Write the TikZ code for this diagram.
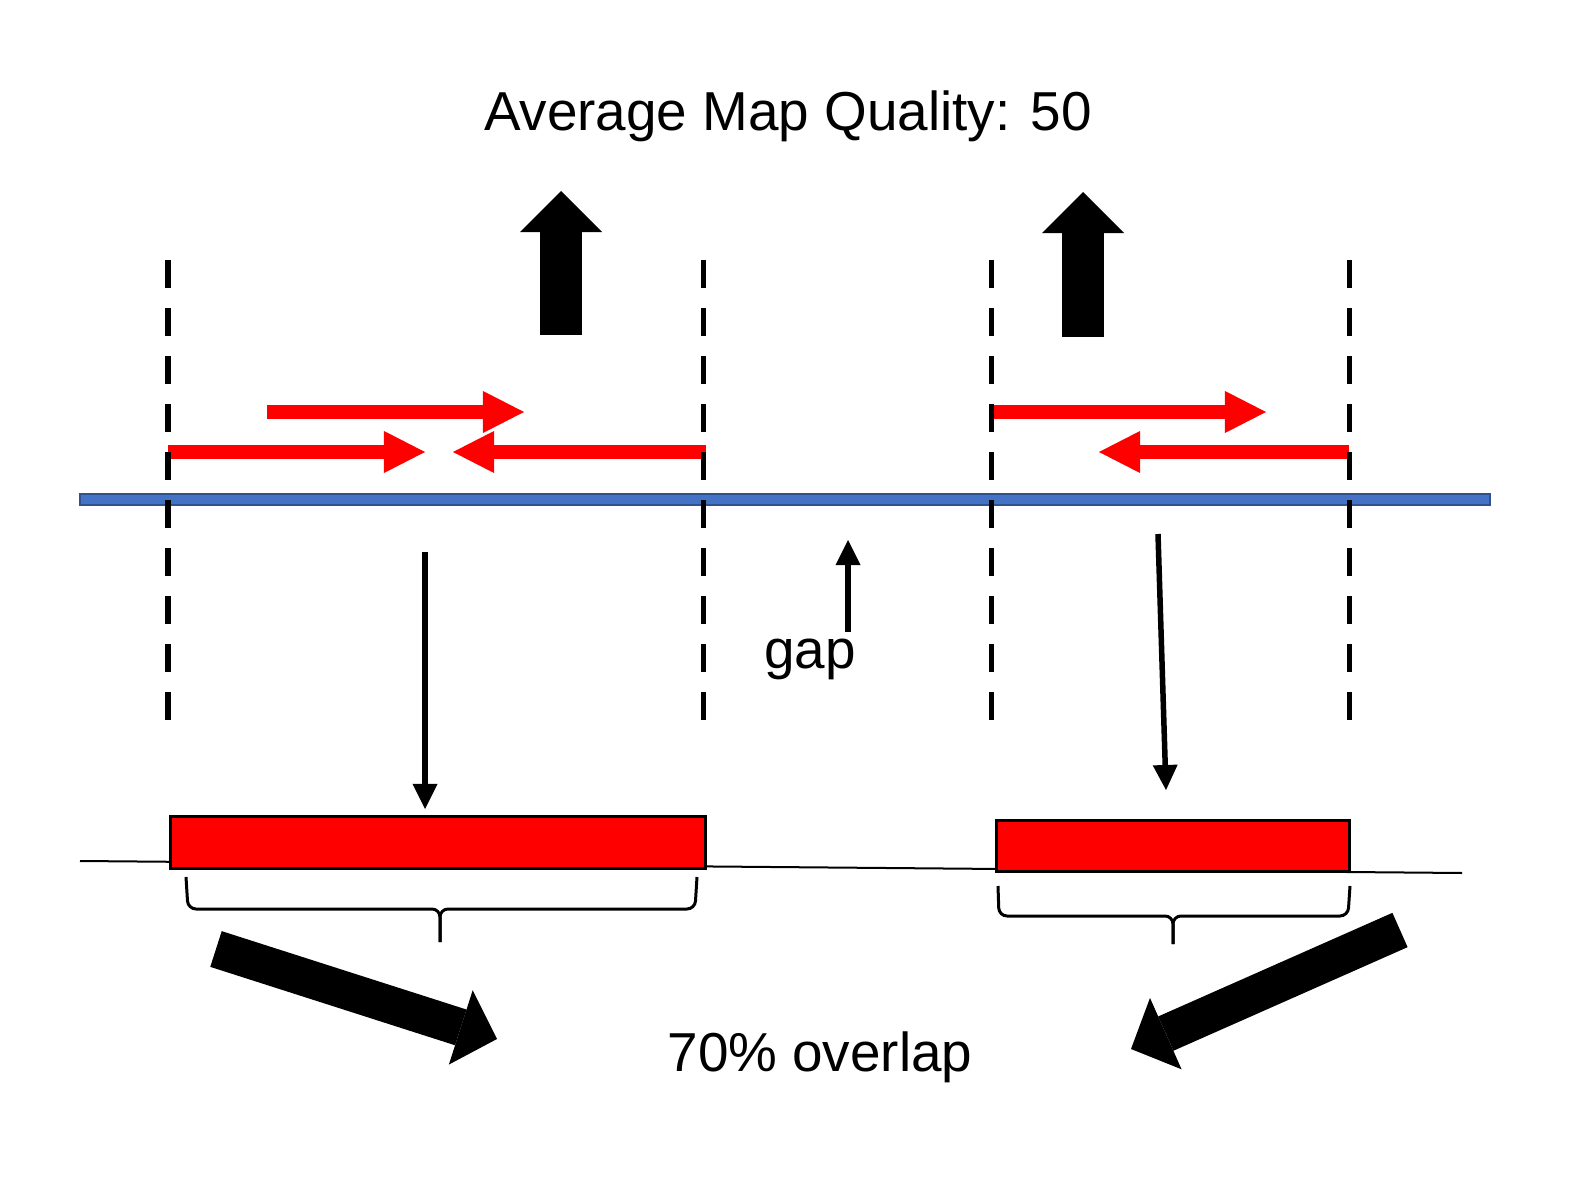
\documentclass[tikz,border=0pt]{standalone}
\usepackage{fontspec}
\setmainfont{Liberation Sans}
\usetikzlibrary{arrows.meta}
\definecolor{mapblue}{HTML}{4472C4}
\definecolor{mapblueline}{HTML}{2F528F}
\tikzset{
	maptext/.style={font=\fontsize{15.6pt}{18pt}\selectfont,inner sep=0pt,anchor=base},
	readarrow/.style={draw=red,line width=0.14cm,-{Triangle[length=0.41cm,width=0.42cm,line width=0pt]}},
	bigarrow/.style={line width=0.41cm,-{Triangle[length=0.41cm,width=0.82cm,line width=0pt]}},
	diagarrow/.style={line width=0.375cm,-{Triangle[length=0.38cm,width=0.78cm,line width=0pt]}},
	thinarrow/.style={line width=0.055cm,-{Triangle[length=0.25cm,width=0.25cm,line width=0pt]}},
	boundary/.style={line width=0.05cm,dash pattern=on 0.28cm off 0.2cm},
	readblock/.style={fill=red,draw=black,line width=0.03cm},
	braceline/.style={line width=0.03cm,rounded corners=0.08cm}
}
\begin{document}
\begin{tikzpicture}[x=0.01cm,y=-0.01cm]
	\useasboundingbox (0,0) rectangle (1572,1182);
	\node[maptext] (title) at (788,131) {Average Map Quality: 50};
	\draw[bigarrow] (561,335) -- (561,191);
	\draw[bigarrow] (1083,337) -- (1083,192);
	\draw[readarrow] (267,412) -- (524,412);
	\draw[readarrow] (168,452) -- (425,452);
	\draw[readarrow] (706,452) -- (453,452);
	\draw[readarrow] (993,412) -- (1266,412);
	\draw[readarrow] (1349,452) -- (1099,452);
	\filldraw[fill=mapblue,draw=mapblueline,line width=0.015cm] (80,494) rectangle (1490,505);
	\draw[line width=0.02cm] (80,861) -- (1462,873);
	\filldraw[readblock] (170,816) rectangle (705,868);
	\filldraw[readblock] (996,820) rectangle (1349,871);
	\draw[braceline] (186,877) -- (188,909) -- (440,909) -- (440,942);
	\draw[braceline] (697,877) -- (695,909) -- (440,909) -- (440,942);
	\draw[braceline] (998,886) -- (999,916) -- (1173,916) -- (1173,944);
	\draw[braceline] (1350,886) -- (1348,916) -- (1173,916) -- (1173,944);
	\draw[thinarrow] (425,552) -- (425,809);
	\draw[thinarrow] (1158,534) -- (1166,790);
	\draw[thinarrow] (848,632) -- (848,540);
	\draw[diagarrow] (216,949) -- (497,1039);
	\draw[diagarrow] (1400,930) -- (1131,1049);
	\foreach \x in {168,703,991,1349}
		\draw[boundary] (\x,260) -- (\x,720);
	\node[maptext] (gaplabel) at (810,668) {gap};
	\node[maptext] (overlaplabel) at (820,1071) {70\% overlap};
\end{tikzpicture}
\end{document}
